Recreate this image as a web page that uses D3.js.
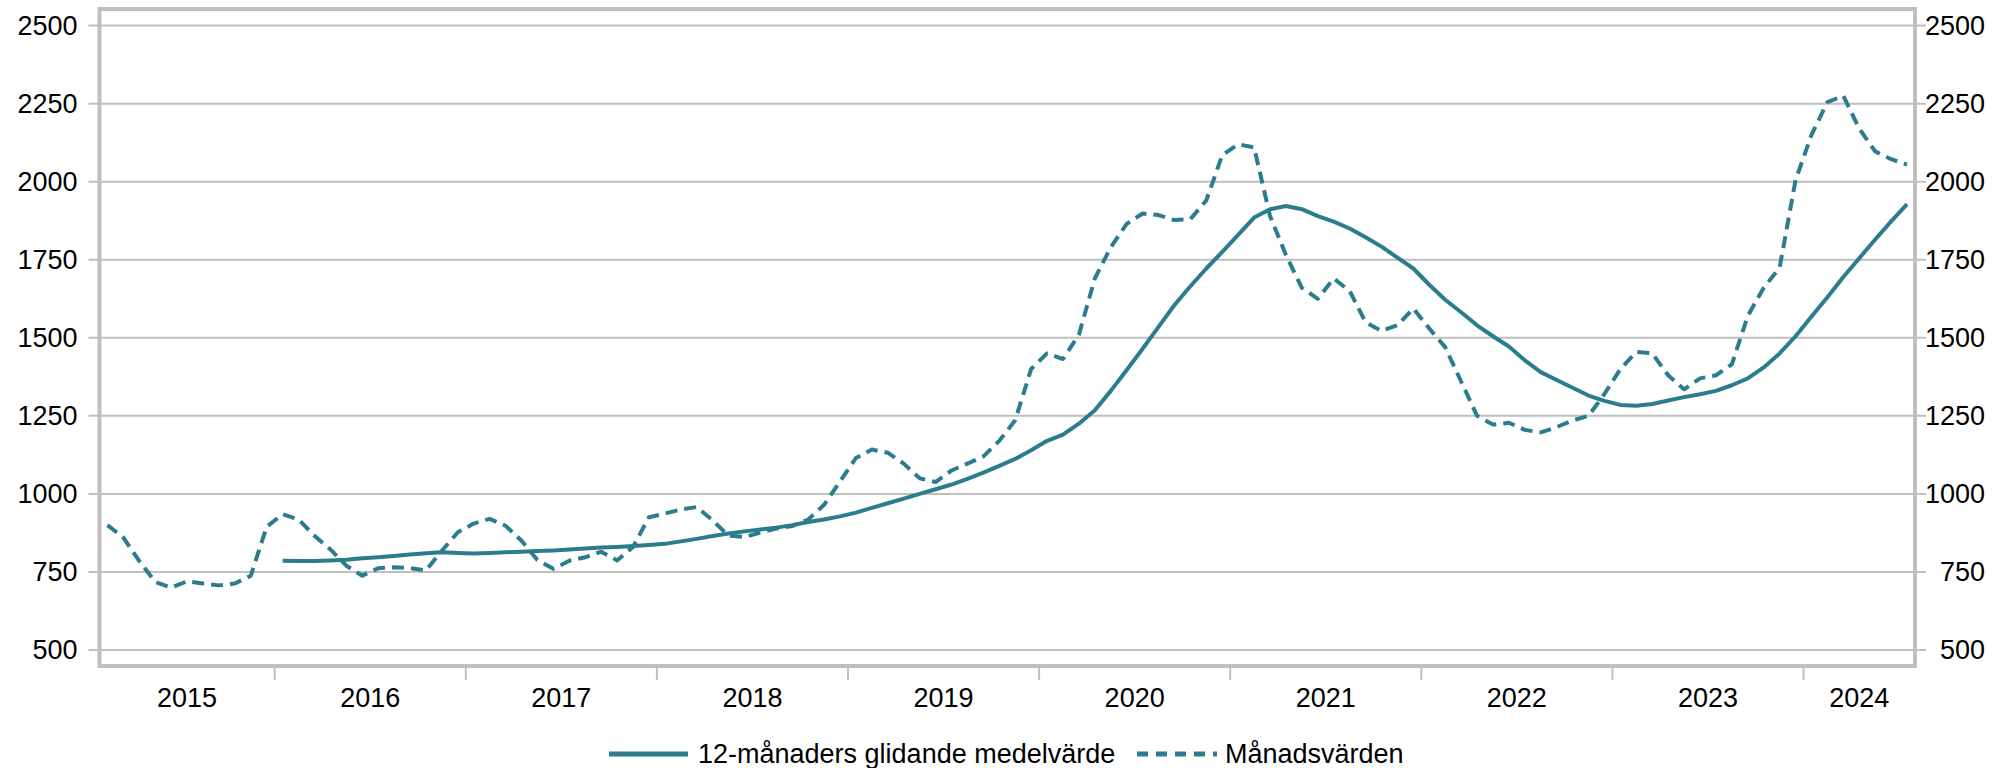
<!DOCTYPE html>
<html>
<head>
<meta charset="utf-8">
<script src="https://cdn.jsdelivr.net/npm/d3@7"></script>
<style>
  body { margin: 0; background: #fff; }
  text { font-family: "Liberation Sans", Arial, sans-serif; fill: #000; }
</style>
</head>
<body>
<div id="viz"></div>
<script>
const years = ["2015", "2016", "2017", "2018", "2019", "2020", "2021", "2022", "2023", "2024"];
// one category per month, Feb 2015 - Jul 2024
const months = d3.timeMonth.range(new Date(2015, 1, 1), new Date(2024, 7, 1));
const yTicks = [500, 750, 1000, 1250, 1500, 1750, 2000, 2250, 2500];

const monthlyValues = [
    900, 860, 785, 718, 700, 720, 713, 707, 713, 738, 895,
    935, 918, 866, 822, 770, 738, 762, 765, 762, 755, 818, 877,
    905, 920, 898, 850, 788, 760, 786, 797, 815, 787, 830, 925,
    937, 950, 958, 915, 866, 862, 876, 889, 897, 918, 965, 1040,
    1115, 1142, 1132, 1097, 1050, 1038, 1075, 1097, 1120, 1170, 1236, 1400,
    1450, 1432, 1510, 1690, 1790, 1865, 1898, 1893, 1877, 1880, 1940, 2085,
    2120, 2110, 1890, 1765, 1660, 1625, 1690, 1650, 1550, 1522, 1540, 1594,
    1530, 1470, 1360, 1250, 1222, 1228, 1205, 1197, 1214, 1235, 1250, 1320,
    1400, 1455, 1450, 1380, 1335, 1370, 1380, 1415, 1570, 1660, 1725, 2005,
    2150, 2255, 2275, 2170, 2097, 2072, 2055
];

const movingAverage = [
    null, null, null, null, null, null, null, null, null, null, null,
    786, 785, 785, 787, 789, 794, 797, 801, 806, 810, 813, 811,
    809, 811, 813, 815, 817, 819, 822, 825, 828, 830, 833, 836,
    840, 848, 856, 865, 873, 880, 886, 892, 900, 910, 918, 928,
    940, 955, 970, 985, 1000, 1015, 1030, 1048, 1068, 1090, 1112, 1140,
    1170, 1190, 1225, 1268, 1330, 1397, 1465, 1535, 1605, 1665, 1722, 1775,
    1830, 1885, 1912, 1922, 1912, 1890, 1872, 1850, 1822, 1792, 1757, 1722,
    1670, 1622, 1582, 1540, 1505, 1472, 1428, 1390, 1365, 1340, 1315, 1298,
    1285, 1282, 1288, 1299, 1310, 1319, 1330, 1348, 1370, 1405, 1450, 1505,
    1568, 1630, 1695, 1755, 1815, 1873, 1928
];

const legendLabels = ["12-månaders glidande medelvärde", "Månadsvärden"];

const width = 2011;
const height = 768;
const plot = { left: 99.5, right: 1915, top: 9, bottom: 666 };
const lineColor = "#2b7d8e";
const gridColor = "#bfbfbf";

const svg = d3.select("#viz").append("svg")
    .attr("width", width)
    .attr("height", height);

const x = d3.scaleBand()
    .domain(months)
    .range([plot.left, plot.right])
    .paddingInner(0)
    .paddingOuter(0);

const y = d3.scaleLinear()
    .domain([500, 2500])
    .range([650, 25.6]);

const cx = d => x(d) + x.bandwidth() / 2;

// gridlines, running out past the frame as tick marks
svg.append("g")
    .selectAll("line")
    .data(yTicks)
    .join("line")
        .attr("x1", plot.left - 11)
        .attr("x2", plot.right + 11)
        .attr("y1", d => y(d))
        .attr("y2", d => y(d))
        .attr("stroke", gridColor)
        .attr("stroke-width", 2);

const yLeft = svg.append("g")
    .attr("transform", `translate(${plot.left},0)`)
    .call(d3.axisLeft(y).tickValues(yTicks).tickFormat(d3.format("d")).tickSize(11).tickPadding(11));
yLeft.select(".domain").remove();
yLeft.selectAll(".tick line").remove();
yLeft.selectAll("text").style("font-size", "27px");

const yRight = svg.append("g")
    .attr("transform", `translate(${plot.right},0)`)
    .call(d3.axisRight(y).tickValues(yTicks).tickFormat(d3.format("d")).tickSize(11));
yRight.select(".domain").remove();
yRight.selectAll(".tick line").remove();
yRight.selectAll("text")
    .attr("text-anchor", "end")
    .attr("x", 70)
    .style("font-size", "27px");

// frame
svg.append("rect")
    .attr("x", plot.left)
    .attr("y", plot.top)
    .attr("width", plot.right - plot.left)
    .attr("height", plot.bottom - plot.top)
    .attr("fill", "none")
    .attr("stroke", gridColor)
    .attr("stroke-width", 4);

// year ticks between groups and year labels centered on each group
const yearGroups = years.map(yr => {
    const ms = months.filter(m => m.getFullYear() === +yr);
    return { year: yr, start: x(ms[0]), end: x(ms[ms.length - 1]) + x.bandwidth() };
});

svg.append("g")
    .selectAll("line")
    .data(yearGroups.slice(1))
    .join("line")
        .attr("x1", d => d.start)
        .attr("x2", d => d.start)
        .attr("y1", plot.bottom)
        .attr("y2", plot.bottom + 14)
        .attr("stroke", gridColor)
        .attr("stroke-width", 2);

svg.append("g")
    .selectAll("text")
    .data(yearGroups)
    .join("text")
        .attr("x", d => (d.start + d.end) / 2)
        .attr("y", 707)
        .attr("text-anchor", "middle")
        .style("font-size", "27px")
        .text(d => d.year);

const line = d3.line()
    .defined(d => d[1] != null)
    .x(d => cx(d[0]))
    .y(d => y(d[1]));

svg.append("path")
    .datum(months.map((m, i) => [m, monthlyValues[i]]))
    .attr("d", line)
    .attr("fill", "none")
    .attr("stroke", lineColor)
    .attr("stroke-width", 4)
    .attr("stroke-linejoin", "round")
    .attr("stroke-dasharray", "12,7");

svg.append("path")
    .datum(months.map((m, i) => [m, movingAverage[i]]))
    .attr("d", line)
    .attr("fill", "none")
    .attr("stroke", lineColor)
    .attr("stroke-linejoin", "round")
    .attr("stroke-width", 4);

// legend
const legend = svg.append("g").attr("transform", "translate(0,754)");

legend.append("line")
    .attr("x1", 609).attr("x2", 688)
    .attr("stroke", lineColor).attr("stroke-width", 5);
legend.append("text")
    .attr("x", 698).attr("dy", "0.35em")
    .style("font-size", "27px")
    .text(legendLabels[0]);

legend.append("line")
    .attr("x1", 1137).attr("x2", 1217)
    .attr("stroke", lineColor).attr("stroke-width", 5)
    .attr("stroke-dasharray", "11,8");
legend.append("text")
    .attr("x", 1225).attr("dy", "0.35em")
    .style("font-size", "27px")
    .text(legendLabels[1]);
</script>
</body>
</html>
